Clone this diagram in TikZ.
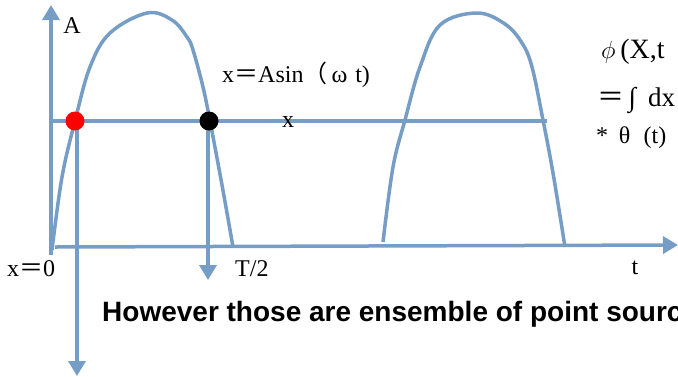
\documentclass[tikz,border=0pt]{standalone}
\usepackage{fontspec}
\setmainfont{Liberation Serif}
\newfontfamily\cjk{Noto Sans CJK SC}
\newfontfamily\headfont{Liberation Sans}
\definecolor{myb}{RGB}{118, 157, 198}
\usetikzlibrary{arrows.meta, positioning}

\begin{document}
\begin{tikzpicture}[x=1pt, y=-1pt,
        curve/.style={draw=myb, line width=3.5pt},
        axis/.style={curve, -{Triangle[width=17pt, length=15pt]}},
        dot/.style={circle, inner sep=0pt, minimum size=19pt},
        lbl/.style={inner sep=0pt, font=\fontsize{24}{26}\selectfont}]
        \useasboundingbox (0,0) rectangle (678,376);
        \clip (0,0) rectangle (678,376);
        \coordinate (c1) at (75,121);
        \coordinate (c2) at (209,121);
        \coordinate (top) at (51,5);
        \coordinate (bot) at (51,255);
        \coordinate (t0) at (55,247);
        \coordinate (t1) at (678,245);
        \coordinate (xl) at (51,121);
        \coordinate (xr) at (547,121);
        \coordinate (d1) at (77,376);
        \coordinate (d2) at (208,280);
        % axes and level line
        \draw[axis] (bot) -- (top);
        \draw[axis] (t0) -- (t1);
        \draw[curve] (xl) -- (xr);
        % the two half waves
        \draw[curve] plot[smooth, tension=0.6] coordinates {(52,250) (62,177) (75,121) (90,67) (110,33) (147,13) (172,20) (187,37) (193,50) (203,87) (210,121) (222,185) (233,247)};
        \draw[curve] plot[smooth, tension=0.6] coordinates {(383,242) (393,167) (405,120) (420,67) (440,25) (477,13) (505,24) (522,43) (532,67) (543,120) (553,173) (565,247)};
        \draw[axis] (c1 |- xl) ++(2,0) -- (d1);
        \draw[axis] (c2) ++(-1,0) -- (d2);
        \node[dot, fill=red] (p1) at (c1) {};
        \node[dot, fill=black] (p2) at (c2) {};
        % labels
        \node[lbl, anchor=base] (la) at (72,33) {A};
        \node[lbl, anchor=base west] (lsin) at (222,82) {x{\cjk ＝}Asin{\cjk （}\,ω\,\,t)};
        \node[lbl] (lx) at (288,122) {x};
        \node[lbl, anchor=base west] (lx0) at (7,276) {x{\cjk ＝}0};
        \node[lbl, anchor=base west] (lhalf) at (235,276) {T/2};
        \node[lbl, anchor=base] (lt) at (635,274) {t};
        \node[lbl, anchor=base west, font=\fontsize{28}{30}\selectfont] (lphi) at (601,58) {$\phi$\,(X,t};
        \node[lbl, anchor=base west, font=\fontsize{27}{29}\selectfont] (lint) at (597,106) {{\cjk ＝}\,∫\;\,dx};
        \node[lbl, anchor=base west] (lth) at (596,143) {*\;\,θ\;\;(t)};
        \node[inner sep=0pt, anchor=base west, font=\headfont\bfseries\fontsize{28}{30}\selectfont] (lnote) at (102,321) {However those are ensemble of point sourc};
\end{tikzpicture}
\end{document}
